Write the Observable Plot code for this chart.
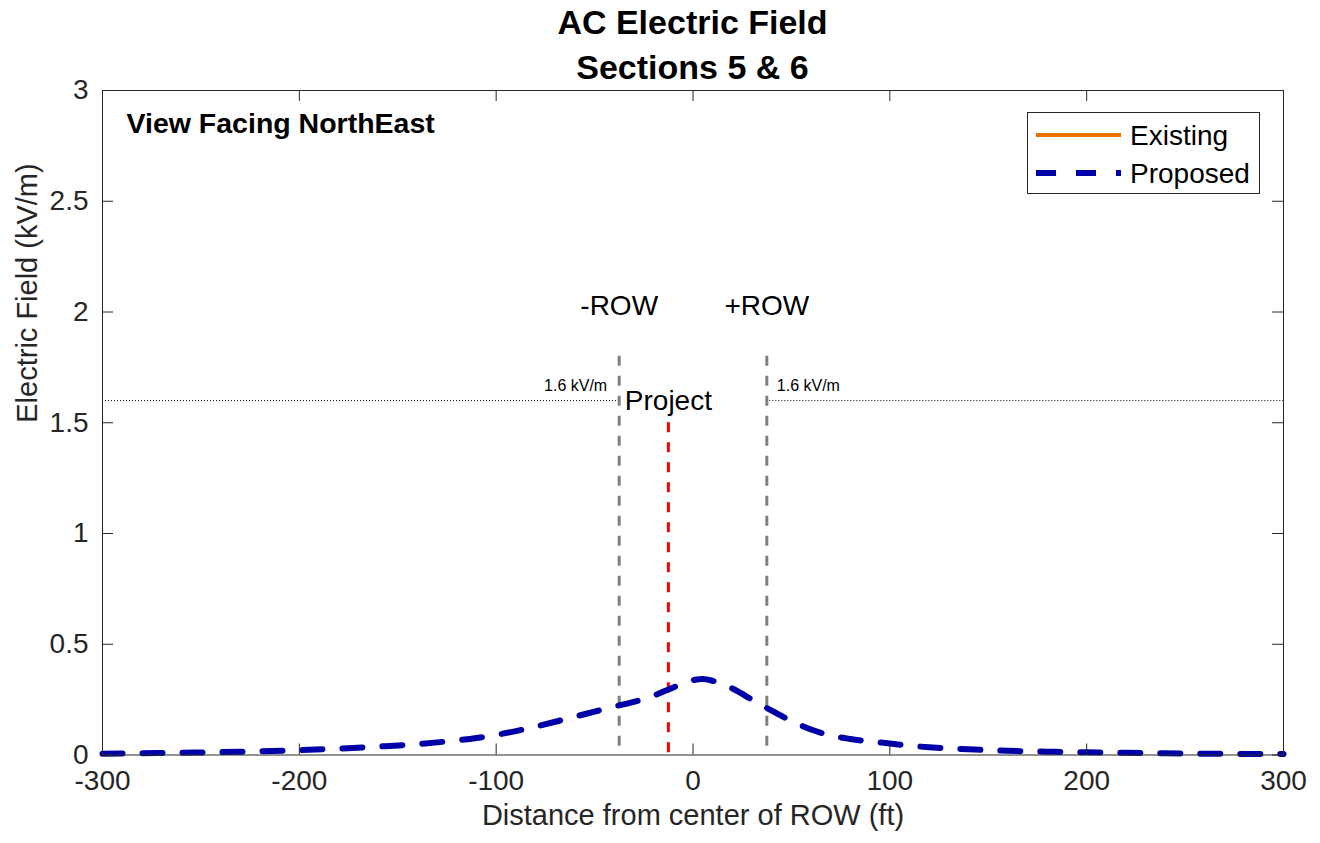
<!DOCTYPE html>
<html><head><meta charset="utf-8">
<script src="https://cdn.jsdelivr.net/npm/d3@7"></script>
<script src="https://cdn.jsdelivr.net/npm/@observablehq/plot@0.6"></script>
<style>
body{margin:0;background:#fff;font-family:"Liberation Sans",Arial,Helvetica,sans-serif;}
#wrap{position:relative;width:1320px;height:843px;overflow:hidden;}
#title{position:absolute;left:102px;top:0;width:1181px;text-align:center;font-weight:bold;font-size:34px;line-height:45px;color:#000;z-index:2;}
#chart{position:absolute;left:0;top:80px;}
#legend{position:absolute;left:1027px;top:112px;z-index:3;}
</style></head>
<body><div id="wrap"><div id="title">AC Electric Field<br>Sections 5 &amp; 6</div><div id="chart"></div><div id="legend"></div></div>
<script>
// ---- data ----
const distanceFt = [-300,-280,-260,-240,-220,-200,-180,-160,-140,-130,-120,-110,-100,-90,-80,-70,-60,-50,-40,-30,-20,-10,0,5,10,20,30,40,50,60,70,80,90,100,110,120,140,160,180,200,220,240,260,280,300];
const proposedKVm = [0.006,0.008,0.010,0.013,0.017,0.022,0.029,0.038,0.049,0.057,0.066,0.077,0.091,0.108,0.128,0.150,0.173,0.196,0.219,0.240,0.268,0.305,0.338,0.343,0.335,0.300,0.250,0.200,0.153,0.115,0.088,0.072,0.061,0.052,0.042,0.035,0.026,0.019,0.015,0.012,0.010,0.008,0.006,0.005,0.005];
const seriesNames = ["Existing","Proposed"];
const seriesColors = ["#e67300","#0000a8"];
const xTicks = [-300,-200,-100,0,100,200,300];
const yTicks = [0,0.5,1,1.5,2,2.5,3];
const rowEdgesFt = [-37.5,37.5];
const rowLabels = ["-ROW","+ROW"];
const rowLineTopKVm = 1.8;
const projectFt = -12.5;
const projectLineTopKVm = 1.5;
const projectLabel = "Project";
const limitKVm = 1.6;
const limitLabel = "1.6 kV/m";
const viewLabel = "View Facing NorthEast";
const xLabel = "Distance from center of ROW (ft)";
const yLabel = "Electric Field (kV/m)";

// ---- chart ----
const W=1320,H=763,mL=102,mR=37,mT=10,mB=88.5;
const pw=W-mL-mR, ph=H-mT-mB;
const ink="#262626";
const font='"Liberation Sans", Arial, Helvetica, sans-serif';
const data = distanceFt.map((x,i)=>({x, y: proposedKVm[i]}));
const xMin = xTicks[0], xMax = xTicks[xTicks.length-1];
const yMin = yTicks[0], yMax = yTicks[yTicks.length-1];

const chart = Plot.plot({
  width:W,height:H,marginLeft:mL,marginRight:mR,marginTop:mT,marginBottom:mB,
  style:{fontFamily:font, background:"white", overflow:"visible", color:ink},
  x:{domain:[xMin,xMax]},
  y:{domain:[yMin,yMax]},
  marks:[
    Plot.ruleY([limitKVm], {x1: xMin, x2: rowEdgesFt[0], stroke:"black", strokeWidth:1, strokeDasharray:"1,2"}),
    Plot.ruleY([limitKVm], {x1: rowEdgesFt[1], x2: xMax, stroke:"black", strokeWidth:1, strokeDasharray:"1,2"}),
    Plot.ruleX(rowEdgesFt, {x:d=>d, y1:rowLineTopKVm, y2:yMin, stroke:"#808080", strokeWidth:3, strokeDasharray:"10,10"}),
    Plot.ruleX([projectFt], {x:d=>d, y1:projectLineTopKVm, y2:yMin, stroke:"red", strokeWidth:3, strokeDasharray:"10,10"}),
    Plot.line(data, {x:"x", y:"y", stroke:seriesColors[1], strokeWidth:6, strokeDasharray:"20,20", curve:"monotone-x"}),
    Plot.frame({stroke:ink}),
    Plot.tickX(xTicks, {x:d=>d, stroke:ink, insetTop: ph-11}),
    Plot.tickX(xTicks, {x:d=>d, stroke:ink, insetBottom: ph-11}),
    Plot.tickY(yTicks, {y:d=>d, stroke:ink, insetRight: pw-11}),
    Plot.tickY(yTicks, {y:d=>d, stroke:ink, insetLeft: pw-11}),
    Plot.axisX(xTicks, {tickSize:0, tickPadding:15, tickFormat:d=>String(d), fontSize:28, label:null}),
    Plot.axisY(yTicks, {tickSize:0, tickPadding:14, tickFormat:d=>String(d), fontSize:28, label:null}),
    Plot.text(rowLabels, {x:(d,i)=>rowEdgesFt[i], y:()=>rowLineTopKVm, dy:-50, text:d=>d, fontSize:28, fill:"black"}),
    Plot.text([projectLabel], {x:()=>projectFt, y:()=>limitKVm, text:d=>d, fontSize:28, fill:"black"}),
    Plot.text([limitLabel], {x:()=>rowEdgesFt[0], y:()=>limitKVm, dx:-12, dy:-15, textAnchor:"end", text:d=>d, fontSize:16, fill:"black"}),
    Plot.text([limitLabel], {x:()=>rowEdgesFt[1], y:()=>limitKVm, dx:10, dy:-15, textAnchor:"start", text:d=>d, fontSize:16, fill:"black"}),
    Plot.text([viewLabel], {frameAnchor:"top-left", dx:24, dy:33, textAnchor:"start", lineAnchor:"middle", text:d=>d, fontSize:28.5, fontWeight:"bold", fill:"black"}),
    Plot.text([xLabel], {frameAnchor:"bottom", dy:70, text:d=>d, fontSize:29, fill:ink}),
    Plot.text([yLabel], {frameAnchor:"left", dx:-75, rotate:-90, text:d=>d, fontSize:29, fill:ink})
  ]
});
document.getElementById("chart").appendChild(chart);

// ---- legend ----
const lg = d3.select("#legend").append("svg").attr("width",233).attr("height",82)
  .style("font-family",font).style("overflow","visible");
lg.append("rect").attr("x",0.5).attr("y",0.5).attr("width",232).attr("height",81)
  .attr("fill","white").attr("stroke",ink).attr("stroke-width",1);
seriesNames.forEach((name,i)=>{
  const cy = 23 + i*38;
  lg.append("line").attr("x1",9).attr("x2",94).attr("y1",cy).attr("y2",cy)
    .attr("stroke",seriesColors[i]).attr("stroke-width", i===0?4:6)
    .attr("stroke-dasharray", i===0?null:"20,20");
  lg.append("text").attr("x",103).attr("y",cy).attr("dy","0.35em")
    .attr("font-size",28).attr("fill","black").text(name);
});
</script>
</body></html>
